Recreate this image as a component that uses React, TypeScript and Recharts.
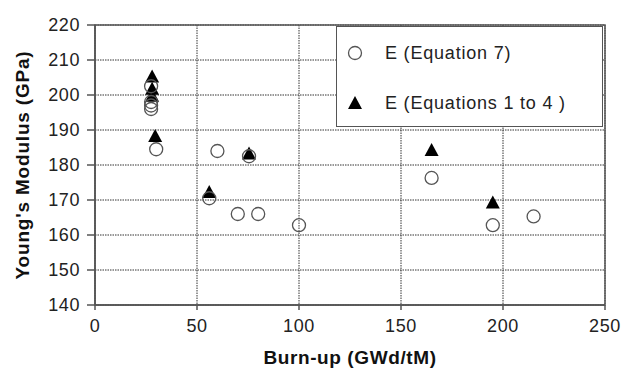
import React from "react";
import {
  ScatterChart,
  Scatter,
  XAxis,
  YAxis,
  CartesianGrid,
  Legend,
  ReferenceArea,
} from "recharts";

const FONT = "'Liberation Sans', Arial, sans-serif";

// E (Equation 7) - open circles
const eq7Burnup = [27.5, 27.5, 27.5, 27.5, 30, 60, 75.5, 56, 70, 80, 100, 165, 195, 215];
const eq7Modulus = [202.5, 198, 197, 196, 184.5, 184, 182.5, 170.5, 166, 166, 162.8, 176.3, 162.8, 165.3];

// E (Equations 1 to 4) - filled triangles
const eq14Burnup = [28, 28, 28, 29.5, 75.5, 56, 165, 195];
const eq14Modulus = [205, 201.5, 199.5, 188, 183, 172, 184, 169];

const xTicks = [0, 50, 100, 150, 200, 250];
const yTicks = [140, 150, 160, 170, 180, 190, 200, 210, 220];

const eq7Name = "E (Equation 7)";
const eq14Name = "E (Equations 1 to 4 )";

const eq7Data = eq7Burnup.map((x, i) => ({ x, y: eq7Modulus[i] }));
const eq14Data = eq14Burnup.map((x, i) => ({ x, y: eq14Modulus[i] }));

const CircleDot = (props: any) => {
  const { cx, cy } = props;
  return <circle cx={cx} cy={cy} r={6.5} fill="none" stroke="#555" strokeWidth={1.3} />;
};

const TriangleDot = (props: any) => {
  const { cx, cy } = props;
  return (
    <path
      d={`M${cx},${cy - 8} L${cx - 7},${cy + 5} L${cx + 7},${cy + 5} Z`}
      fill="#000"
    />
  );
};

function LegendBox() {
  const rows = [
    { name: eq7Name, icon: <circle cx={10} cy={10} r={6.5} fill="none" stroke="#555" strokeWidth={1.3} /> },
    { name: eq14Name, icon: <path d="M10,3 L3,16 L17,16 Z" fill="#000" /> },
  ];
  return (
    <div
      style={{
        width: 267,
        height: 101,
        boxSizing: "border-box",
        border: "1.5px solid #555",
        background: "#fff",
        fontFamily: FONT,
        fontSize: 18,
        letterSpacing: 0.8,
        color: "#222",
        paddingTop: 1,
      }}
    >
      {rows.map((r) => (
        <div key={r.name} style={{ height: 50, display: "flex", alignItems: "center" }}>
          <svg width={20} height={20} style={{ marginLeft: 8 }}>
            {r.icon}
          </svg>
          <span style={{ marginLeft: 20 }}>{r.name}</span>
        </div>
      ))}
    </div>
  );
}

export default function App() {
  return (
    <div style={{ position: "absolute", left: 0, top: 0, background: "#fff" }}>
      <ScatterChart
        width={622}
        height={369}
        margin={{ top: 25, right: 17, bottom: 0, left: 0 }}
      >
        <CartesianGrid stroke="#333" strokeDasharray="1.5 1" />
        <XAxis
          type="number"
          dataKey="x"
          domain={[0, 250]}
          ticks={xTicks}
          height={64}
          tickSize={5}
          tickMargin={9}
          axisLine={{ stroke: "#555", strokeWidth: 1.5 }}
          tickLine={{ stroke: "#555", strokeWidth: 1.5 }}
          tick={{ fontSize: 18, fill: "#222", fontFamily: FONT, letterSpacing: 0.6 }}
          label={{
            value: "Burn-up (GWd/tM)",
            position: "insideBottom",
            offset: 5,
            style: { fontSize: 19, fontWeight: "bold", fill: "#111", fontFamily: FONT, letterSpacing: 0.6 },
          }}
        />
        <YAxis
          type="number"
          dataKey="y"
          domain={[140, 220]}
          ticks={yTicks}
          width={95}
          tickSize={8}
          tickMargin={7}
          axisLine={{ stroke: "#555", strokeWidth: 1.5 }}
          tickLine={{ stroke: "#555", strokeWidth: 1.5 }}
          tick={{ fontSize: 18, fill: "#222", fontFamily: FONT, letterSpacing: 0.6 }}
          label={{
            value: "Young's Modulus (GPa)",
            angle: -90,
            position: "insideLeft",
            offset: 22,
            style: { textAnchor: "middle", fontSize: 19, fontWeight: "bold", fill: "#111", fontFamily: FONT, letterSpacing: 0.8 },
          }}
        />
        <ReferenceArea
          x1={0}
          x2={250}
          y1={140}
          y2={220}
          fill="none"
          stroke="#555"
          strokeWidth={1.5}
          ifOverflow="visible"
        />
        <Legend
          layout="vertical"
          align="center"
          verticalAlign="middle"
          content={() => <LegendBox />}
          wrapperStyle={{ left: 336, top: 26, width: 267, height: 101 }}
        />
        <Scatter name={eq14Name} data={eq14Data} shape={TriangleDot} isAnimationActive={false} />
        <Scatter name={eq7Name} data={eq7Data} shape={CircleDot} isAnimationActive={false} />
      </ScatterChart>
    </div>
  );
}
